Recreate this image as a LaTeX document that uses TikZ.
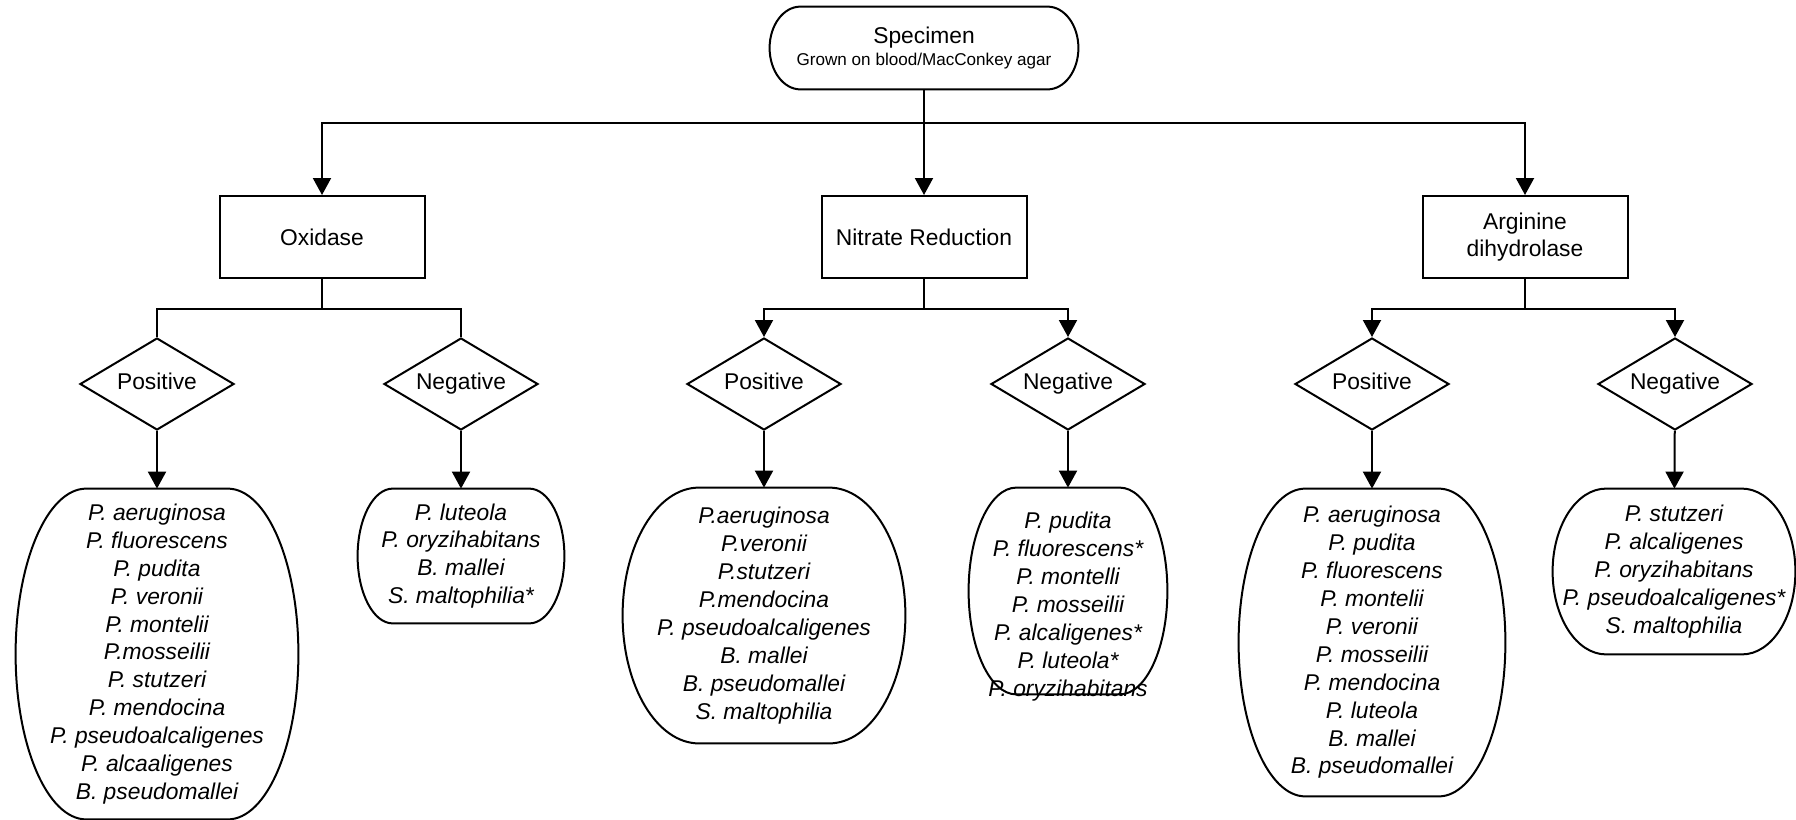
\documentclass[tikz,border=0pt]{standalone}
\usepackage{fontspec}
\setmainfont{Liberation Sans}
\usetikzlibrary{positioning, calc, arrows.meta, shapes.geometric}
\newcommand{\boxfont}{\fontsize{11.4}{13.9}\selectfont}
\newcommand{\listfont}{\fontsize{11.4}{13.95}\selectfont\itshape}
\tikzset{shapeline/.style={draw, line width=1pt}}
\tikzset{conn/.style={draw, line width=1pt}}
\tikzset{arr/.style={conn, -{Triangle[length=8.5pt, width=9pt]}}}
\tikzset{testbox/.style={shapeline, minimum width=102.5pt, minimum height=41pt, inner sep=0pt, align=center, font=\boxfont}}
\tikzset{resultdia/.style={shapeline, diamond, aspect=1.67, minimum width=77pt, minimum height=46pt, inner sep=0pt,
    text height=8.2pt, text depth=2.4pt, font=\boxfont}}
\tikzset{listbox/.style={inner sep=0pt, align=center, font=\listfont}}
% outline with elliptic sides round a node: name, corner share of the width
\newcommand{\roundoutline}[2]{%
  \draw[shapeline] let \p1=(#1.north west), \p2=(#1.south east),
      \n1={#2*(\x2-\x1)}, \n2={(\y1-\y2)/2} in
    (\x1+\n1*1pt,\y1) -- (\x2-\n1*1pt,\y1)
    arc[start angle=90, end angle=-90, x radius=\n1*1pt, y radius=\n2*1pt]
    -- (\x1+\n1*1pt,\y2)
    arc[start angle=270, end angle=90, x radius=\n1*1pt, y radius=\n2*1pt] -- cycle;}

\begin{document}
\begin{tikzpicture}[x=0.5pt, y=-0.5pt]
    \useasboundingbox (0,0) rectangle (1796,820);
    %
    \node[listbox, font=\boxfont, minimum width=154pt, minimum height=41pt] (specimen) at (924,48)
        {Specimen\\[-3pt]{\fontsize{8.55}{10}\selectfont Grown on blood/MacConkey agar}};
    %
    \node[testbox] (oxidase) at (322,237) {Oxidase};
    \node[testbox] (nitrate) at (924,237) {Nitrate Reduction};
    \node[testbox] (arginine) at (1525,237) {Arginine\\dihydrolase};
    %
    \node[resultdia] (oxpos) at (157,384) {Positive};
    \node[resultdia] (oxneg) at (461,384) {Negative};
    \node[resultdia] (nipos) at (764,384) {Positive};
    \node[resultdia] (nineg) at (1068,384) {Negative};
    \node[resultdia] (arpos) at (1372,384) {Positive};
    \node[resultdia] (arneg) at (1675,384) {Negative};
    %
    \node[listbox, minimum width=141pt, minimum height=165pt] (oxposlist) at (157,654)
        {P. aeruginosa\\P. fluorescens\\P. pudita\\P. veronii\\P. montelii\\P.mosseilii\\P. stutzeri\\P. mendocina\\P. pseudoalcaligenes\\P. alcaaligenes\\B. pseudomallei};
    \node[listbox, minimum width=103pt, minimum height=67pt] (oxneglist) at (461,556)
        {P. luteola\\P. oryzihabitans\\B. mallei\\S. maltophilia*};
    \node[listbox, minimum width=141pt, minimum height=127.5pt] (niposlist) at (764,615.5)
        {P.aeruginosa\\P.veronii\\P.stutzeri\\P.mendocina\\P. pseudoalcaligenes\\B. mallei\\B. pseudomallei\\S. maltophilia};
    % text sits low in this one
    \node[listbox, minimum width=99pt, minimum height=103pt] (nineglist) at (1068,591)
        {\raisebox{-8pt}[\height][\depth]{\begin{tabular}{@{}c@{}}P. pudita\\P. fluorescens*\\P. montelli\\P. mosseilii\\P. alcaligenes*\\P. luteola*\\P. oryzihabitans\end{tabular}}};
    \node[listbox, minimum width=133pt, minimum height=153.5pt] (arposlist) at (1372,642.5)
        {P. aeruginosa\\P. pudita\\P. fluorescens\\P. montelii\\P. veronii\\P. mosseilii\\P. mendocina\\P. luteola\\B. mallei\\B. pseudomallei};
    \node[listbox, minimum width=121pt, minimum height=82.5pt] (arneglist) at (1674,571.5)
        {P. stutzeri\\P. alcaligenes\\P. oryzihabitans\\P. pseudoalcaligenes*\\S. maltophilia};
    %
    \foreach \nm/\fr in {specimen/0.1, oxposlist/0.25, oxneglist/0.17, niposlist/0.27,
        nineglist/0.24, arposlist/0.25, arneglist/0.22}
        \roundoutline{\nm}{\fr};
    %
    \coordinate (split) at (924,123);
    \draw[conn] (specimen) -- (split);
    \draw[arr] (split) -| (oxidase);
    \draw[arr] (split) -- (nitrate);
    \draw[arr] (split) -| (arginine);
    %
    \coordinate (oxsplit) at (322,309);
    \draw[conn] (oxidase) -- (oxsplit);
    \draw[conn] (oxsplit) -| (oxpos);
    \draw[conn] (oxsplit) -| (oxneg);
    %
    \coordinate (nisplit) at (924,309);
    \draw[conn] (nitrate) -- (nisplit);
    \draw[arr] (nisplit) -| (nipos);
    \draw[arr] (nisplit) -| (nineg);
    %
    \coordinate (arsplit) at (1525,309);
    \draw[conn] (arginine) -- (arsplit);
    \draw[arr] (arsplit) -| (arpos);
    \draw[arr] (arsplit) -| (arneg);
    %
    \foreach \a/\b in {oxpos/oxposlist, oxneg/oxneglist, nipos/niposlist,
        nineg/nineglist, arpos/arposlist, arneg/arneglist}
        \draw[arr] (\a) -- (\b);
    %
\end{tikzpicture}
\end{document}
